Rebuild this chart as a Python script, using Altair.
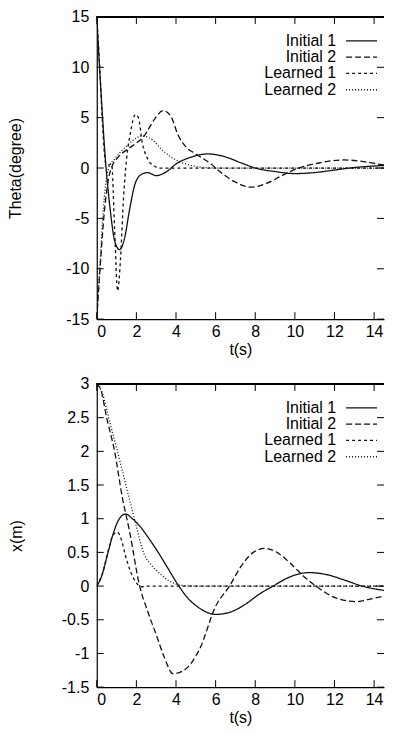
import altair as alt
import pandas as pd

series_names = ["Initial 1", "Initial 2", "Learned 1", "Learned 2"]
dash_styles = [[1, 0], [6, 3], [3, 3], [1, 2]]

# ---- Theta (degree) panel ----
th_i1_t = [0, 0.2, 0.45, 0.7, 0.9, 1.15, 1.4, 1.65, 1.9, 2.2, 2.55, 3.0, 3.5, 4.0, 4.8, 5.6, 6.5, 7.3, 8.0, 9.0, 10.0, 11.0, 12.0, 13.0, 14.0, 15.0]
th_i1_v = [15, 8, 0.5, -4.5, -7.2, -8.1, -7.0, -4.2, -1.8, -0.7, -0.45, -0.75, -0.4, 0.4, 1.1, 1.4, 1.1, 0.5, 0.0, -0.35, -0.55, -0.45, -0.2, 0.05, 0.2, 0.3]

th_i2_t = [0, 0.2, 0.4, 0.6, 0.8, 1.0, 1.3, 1.8, 2.4, 2.9, 3.35, 3.75, 4.1, 4.5, 5.0, 5.7, 6.3, 6.9, 7.8, 8.6, 9.3, 10.2, 11.2, 12.5, 13.6, 14.5, 15]
th_i2_v = [-15, -9, -4, -1, 0.3, 0.9, 1.5, 2.2, 3.2, 4.8, 5.7, 5.1, 3.3, 2.1, 1.4, 0.5, -0.5, -1.3, -1.9, -1.5, -0.8, 0, 0.5, 0.8, 0.6, 0.3, 0.2]

th_l1_t = [0, 0.15, 0.3, 0.45, 0.6, 0.75, 0.9, 1.05, 1.2, 1.35, 1.5, 1.7, 1.95, 2.1, 2.3, 2.6, 2.9, 3.2, 3.6, 4.5, 15]
th_l1_v = [15, 10, 4, 0.5, 0.3, 0.4, -6, -12.2, -9, -3, 0.8, 3.5, 5.3, 5.0, 2.5, 0.8, 0.2, 0, 0, 0, 0]

th_l2_t = [0, 0.15, 0.3, 0.45, 0.6, 0.9, 1.3, 1.8, 2.3, 2.8, 3.3, 3.9, 4.5, 5.2, 6, 15]
th_l2_v = [-15, -10, -5, -1.5, 0, 0.9, 1.8, 2.7, 3.2, 2.8, 1.8, 0.9, 0.4, 0.1, 0, 0]

# ---- x (m) panel ----
x_i1_t = [0, 0.25, 0.5, 0.8, 1.1, 1.45, 1.8, 2.2, 2.6, 3.1, 3.6, 4.1, 4.6, 5.2, 6.0, 6.7, 7.5, 8.2, 8.9, 9.7, 10.7, 11.6, 12.5, 13.4, 14.2, 15]
x_i1_v = [0, 0.15, 0.42, 0.75, 0.98, 1.07, 1.0, 0.88, 0.72, 0.5, 0.26, 0.02, -0.18, -0.33, -0.42, -0.39, -0.27, -0.12, 0.0, 0.13, 0.2, 0.17, 0.09, 0.0, -0.05, -0.08]

x_i2_t = [0, 0.2, 0.5, 0.9, 1.3, 1.65, 2.15, 2.6, 3.0, 3.4, 3.85, 4.4, 5.2, 6.0, 6.7, 7.3, 7.9, 8.5, 9.1, 9.8, 10.5, 11.3, 12.1, 13.1, 14.0, 15]
x_i2_v = [3, 2.92, 2.5, 2.0, 1.3, 0.82, 0.02, -0.4, -0.72, -1.05, -1.3, -1.25, -0.93, -0.3, 0.0, 0.3, 0.5, 0.56, 0.5, 0.33, 0.13, -0.05, -0.18, -0.23, -0.18, -0.11]

x_l1_t = [0, 0.3, 0.6, 0.85, 1.05, 1.25, 1.45, 1.65, 1.85, 2.05, 2.25, 2.6, 15]
x_l1_v = [0, 0.2, 0.55, 0.77, 0.8, 0.68, 0.45, 0.26, 0.12, 0.03, -0.01, 0, 0]

x_l2_t = [0, 0.3, 0.6, 1.0, 1.3, 1.6, 1.9, 2.4, 2.8, 3.2, 3.7, 4.3, 5, 15]
x_l2_v = [3, 2.85, 2.5, 2.05, 1.7, 1.35, 1.0, 0.47, 0.3, 0.18, 0.07, 0.01, 0, 0]

t_domain = [0, 14.5]   # visible part of the time axis (the frame runs past the right edge)
x_ticks = [0, 2, 4, 6, 8, 10, 12, 14]
theta_ticks = [-15, -10, -5, 0, 5, 10, 15]
pos_ticks = [-1.5, -1, -0.5, 0, 0.5, 1, 1.5, 2, 2.5, 3]

W, H1, H2 = 288, 303, 304
FONT = "Liberation Sans"
TICK = 7
INK = "#111111"


def long_df(pairs):
    rows = []
    for name, (ts, vs) in zip(series_names, pairs):
        for t, v in zip(ts, vs):
            rows.append({"series": name, "t": t, "v": v})
    return pd.DataFrame(rows)


def panel(df, ydomain, yticks, ytitle, H, title_x):
    xs = alt.Scale(domain=t_domain, nice=False, zero=False)
    ys = alt.Scale(domain=ydomain, nice=False, zero=False)
    x_axis = alt.Axis(values=x_ticks, title="t(s)", labelPadding=4,
                      titlePadding=2, labelExpr="'' + datum.value")
    y_axis = alt.Axis(values=yticks, title=ytitle, labelPadding=8,
                      titleX=title_x, titleY=H / 2, labelExpr="'' + datum.value")
    dash = alt.StrokeDash("series:N",
                          scale=alt.Scale(domain=series_names, range=dash_styles),
                          legend=None)
    lines = alt.Chart(df).mark_line(interpolate="monotone", color=INK,
                                    strokeWidth=1.3, clip=True).encode(
        x=alt.X("t:Q", scale=xs, axis=x_axis),
        y=alt.Y("v:Q", scale=ys, axis=y_axis),
        strokeDash=dash,
        detail="series:N",
    )
    xt = pd.DataFrame({"t": x_ticks})
    yt = pd.DataFrame({"v": yticks})
    xt_bottom = alt.Chart(xt).mark_rule(color="black").encode(
        x=alt.X("t:Q", scale=xs, axis=x_axis), y=alt.value(H), y2=alt.value(H - TICK))
    xt_top = alt.Chart(xt).mark_rule(color="black").encode(
        x=alt.X("t:Q", scale=xs, axis=x_axis), y=alt.value(0), y2=alt.value(TICK))
    yt_left = alt.Chart(yt).mark_rule(color="black").encode(
        y=alt.Y("v:Q", scale=ys, axis=y_axis), x=alt.value(0), x2=alt.value(TICK))
    yt_right = alt.Chart(yt).mark_rule(color="black").encode(
        y=alt.Y("v:Q", scale=ys, axis=y_axis), x=alt.value(W - TICK), x2=alt.value(W))
    top_border = alt.Chart(xt).mark_rule(color="black", strokeWidth=1.2).encode(
        x=alt.value(0), x2=alt.value(W), y=alt.value(0))

    leg = pd.DataFrame({"series": series_names, "row": [0, 1, 2, 3]})
    row_y = alt.Y("row:O", scale=alt.Scale(type="point", range=[24, 73], padding=0), axis=None)
    leg_lines = alt.Chart(leg).mark_rule(color=INK, strokeWidth=1.3).encode(
        y=row_y, x=alt.value(250), x2=alt.value(281), strokeDash=dash)
    leg_text = alt.Chart(leg).mark_text(align="right", baseline="middle", font=FONT,
                                        fontSize=16, color="black").encode(
        y=row_y, x=alt.value(240), text="series:N")

    main = alt.layer(lines, xt_bottom, xt_top, yt_left, yt_right, top_border)
    legend = alt.layer(leg_lines, leg_text)
    return alt.layer(main, legend).resolve_scale(y="independent").properties(width=W, height=H)


theta_df = long_df([(th_i1_t, th_i1_v), (th_i2_t, th_i2_v), (th_l1_t, th_l1_v), (th_l2_t, th_l2_v)])
x_df = long_df([(x_i1_t, x_i1_v), (x_i2_t, x_i2_v), (x_l1_t, x_l1_v), (x_l2_t, x_l2_v)])

top = panel(theta_df, [-15, 15], theta_ticks, "Theta(degree)", H1, -73)
bottom = panel(x_df, [-1.5, 3], pos_ticks, "x(m)", H2, -72)

chart = alt.vconcat(top, bottom, spacing=19).properties(
    padding={"left": 0, "top": 0, "right": 0, "bottom": 0}
).configure_view(stroke=None).configure_axis(
    domain=True, domainColor="black", domainWidth=1.2,
    ticks=False, grid=False,
    labelFont=FONT, labelFontSize=16, labelColor="black",
    titleFont=FONT, titleFontSize=16, titleFontWeight="normal", titleColor="black",
)

chart.save("out.html", embed_options={"renderer": "svg", "actions": False})
